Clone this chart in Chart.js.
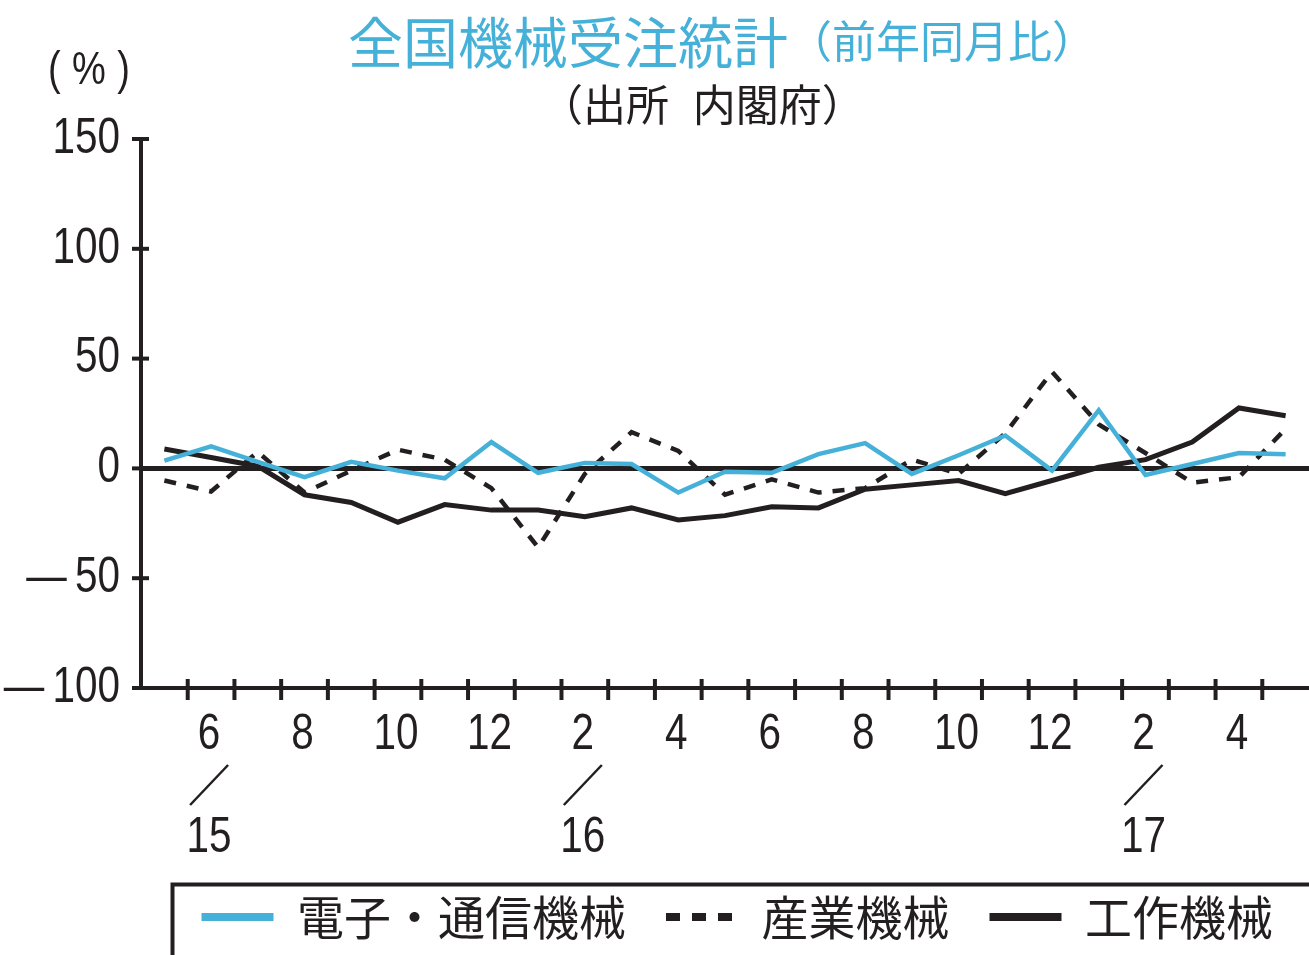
<!DOCTYPE html>
<html lang="ja">
<head>
<meta charset="utf-8">
<title>全国機械受注統計</title>
<script src="https://cdn.jsdelivr.net/npm/chart.js@4.4.1/dist/chart.umd.min.js"></script>
<style>
  html, body { margin: 0; padding: 0; background: #fff; }
  #wrap { position: relative; width: 1309px; height: 955px; overflow: hidden; }
  #chart { position: absolute; left: 0; top: 0; }
  .title { position: absolute; left: 348px; top: 12px; white-space: nowrap; color: #45b1d8;
           font-family: 'Noto Sans CJK JP', sans-serif; line-height: 1; }
  .title .main { font-size: 55px; }
  .title .sub { font-size: 44px; position: relative; top: -5px; }
  .source { position: absolute; left: 540px; top: 81px; white-space: nowrap; color: #231f20;
            font-family: 'Noto Sans CJK JP', sans-serif; font-size: 43px; line-height: 1; word-spacing: 14px; }
  .unit { position: absolute; left: 48px; top: 44px; color: #231f20; letter-spacing: 14px; white-space: nowrap;
          font-family: 'Liberation Sans', sans-serif; font-size: 47px; line-height: 1;
          transform: scaleX(0.81); transform-origin: left top; }
</style>
</head>
<body>
<div id="wrap">
  <canvas id="chart" width="1309" height="955"></canvas>
  <div class="title"><span class="main">全国機械受注統計</span><span class="sub">（前年同月比）</span></div>
  <div class="source">（出所 内閣府）</div>
  <div class="unit">(%)</div>
</div>
<script>
// 2015年5月 〜 2017年5月, 前年同月比(%)
const months = ['5','6','7','8','9','10','11','12','1','2','3','4','5','6','7','8','9','10','11','12','1','2','3','4','5'];
const years  = ['','15','','','','','','','','16','','','','','','','','','','','','17','','',''];

const electronics  = [3.5, 10, 3, -4, 3, -1, -4.5, 12, -2, 2.5, 2, -11, -1.5, -2, 6.5, 11.5, -2.5, 6, 15, -1, 26.5, -3, 2, 7, 6.5];
const industrial   = [-5.5, -10.5, 7.5, -11, -1, 8.5, 4, -9, -36, -2.5, 16.5, 8, -12, -5, -11, -9, 4, -2.5, 16, 44, 20, 7, -6.5, -4, 18];
const machineTools = [8.8, 5, 1, -12, -15.5, -24.5, -16.5, -19, -19, -22, -18, -23.5, -21.5, -17.5, -18, -9.5, -7.5, -5.5, -11.5, -5.5, 0.5, 4, 12, 27.5, 24];

const yTicks = [150, 100, 50, 0, -50, -100];

const CYAN = '#45b1d8';
const INK = '#231f20';
const TICK_FONT = "50px 'Liberation Sans', sans-serif";
const SQUEEZE = 0.81;   // condensed look for the numerals
const LEGEND_PAD = 40;

function line(ctx, x1, y1, x2, y2) {
  ctx.beginPath();
  ctx.moveTo(x1, y1);
  ctx.lineTo(x2, y2);
  ctx.stroke();
}

function narrowText(ctx, text, x, y, align) {
  ctx.save();
  ctx.translate(x, y);
  ctx.scale(SQUEEZE, 1);
  ctx.textAlign = align;
  ctx.fillText(text, 0, 0);
  ctx.restore();
}

const fmtY = v => v < 0 ? '—\u2009' + (-v) : String(v);

// zero line, crossing tick marks, tick labels, year slashes, legend frame
const axisMarks = {
  id: 'axisMarks',
  beforeDatasetsDraw(chart) {
    const { ctx, chartArea, scales: { y } } = chart;
    ctx.save();
    ctx.strokeStyle = INK;
    ctx.lineWidth = 5;
    const y0 = y.getPixelForValue(0);
    line(ctx, chartArea.left, y0, chartArea.right, y0);
    ctx.restore();
  },
  afterDraw(chart) {
    const { ctx, chartArea, scales: { x, y } } = chart;
    ctx.save();
    ctx.strokeStyle = INK;
    ctx.fillStyle = INK;
    ctx.lineWidth = 4;
    ctx.font = TICK_FONT;
    ctx.textBaseline = 'middle';

    yTicks.forEach(v => {
      const py = y.getPixelForValue(v);
      line(ctx, chartArea.left - 9, py, chartArea.left + 8, py);
      narrowText(ctx, fmtY(v), chartArea.left - 21, py, 'right');
    });

    for (let i = 1; i < months.length; i++) {
      const px = (x.getPixelForValue(i - 1) + x.getPixelForValue(i)) / 2;
      line(ctx, px, chartArea.bottom - 9, px, chartArea.bottom + 12);
    }

    months.forEach((m, i) => {
      if (Number(m) % 2) return;
      const cx = x.getPixelForValue(i) - 2;
      narrowText(ctx, m, cx, x.top + 47, 'center');
      if (years[i]) {
        ctx.lineWidth = 2.5;
        line(ctx, cx - 19, x.top + 117, cx + 19, x.top + 77);
        narrowText(ctx, years[i], cx, x.top + 150, 'center');
      }
    });

    const lg = chart.legend;
    if (lg && lg.legendHitBoxes.length) {
      const fl = lg.legendHitBoxes[0].left - 29;
      const ft = lg.top + LEGEND_PAD - 9;
      ctx.lineWidth = 4;
      ctx.beginPath();
      ctx.moveTo(fl, chart.height + 5);
      ctx.lineTo(fl, ft);
      ctx.lineTo(chart.width + 5, ft);
      ctx.stroke();
    }
    ctx.restore();
  }
};

new Chart(document.getElementById('chart'), {
  type: 'line',
  data: {
    labels: months,
    datasets: [
      { label: '電子・通信機械', data: electronics, borderColor: CYAN, borderWidth: 4.5 },
      { label: '産業機械', data: industrial, borderColor: INK, borderWidth: 4.5, borderDash: [12, 11] },
      { label: '工作機械', data: machineTools, borderColor: INK, borderWidth: 5 }
    ]
  },
  options: {
    responsive: false,
    animation: false,
    devicePixelRatio: 1,
    layout: { padding: { top: 139, right: -4, bottom: 4.5, left: 0 } },
    elements: {
      line: { tension: 0, fill: false },
      point: { radius: 0, hoverRadius: 0 }
    },
    scales: {
      x: {
        offset: true,
        grid: { display: false, drawTicks: false },
        border: { display: true, width: 4, color: INK },
        afterFit: s => { s.height = 165.5; },
        ticks: { display: false, autoSkip: false }
      },
      y: {
        min: -100,
        max: 150,
        grid: { display: false, drawTicks: false },
        border: { display: true, width: 4, color: INK },
        afterFit: s => { s.width = 141; },
        ticks: { display: false, stepSize: 50 }
      }
    },
    plugins: {
      title: { display: false },
      tooltip: { enabled: false },
      legend: {
        position: 'bottom',
        align: 'end',
        labels: {
          usePointStyle: true,
          pointStyle: 'line',
          pointStyleWidth: 72,
          padding: LEGEND_PAD,
          color: INK,
          font: { family: "'Noto Sans CJK JP', sans-serif", size: 47 },
          generateLabels: chart => Chart.defaults.plugins.legend.labels.generateLabels(chart).map(item => {
            const ds = chart.data.datasets[item.datasetIndex];
            item.lineWidth = 8;
            item.lineDash = ds.borderDash ? [14, 12] : [];
            return item;
          })
        }
      }
    }
  },
  plugins: [axisMarks]
});
</script>
</body>
</html>
